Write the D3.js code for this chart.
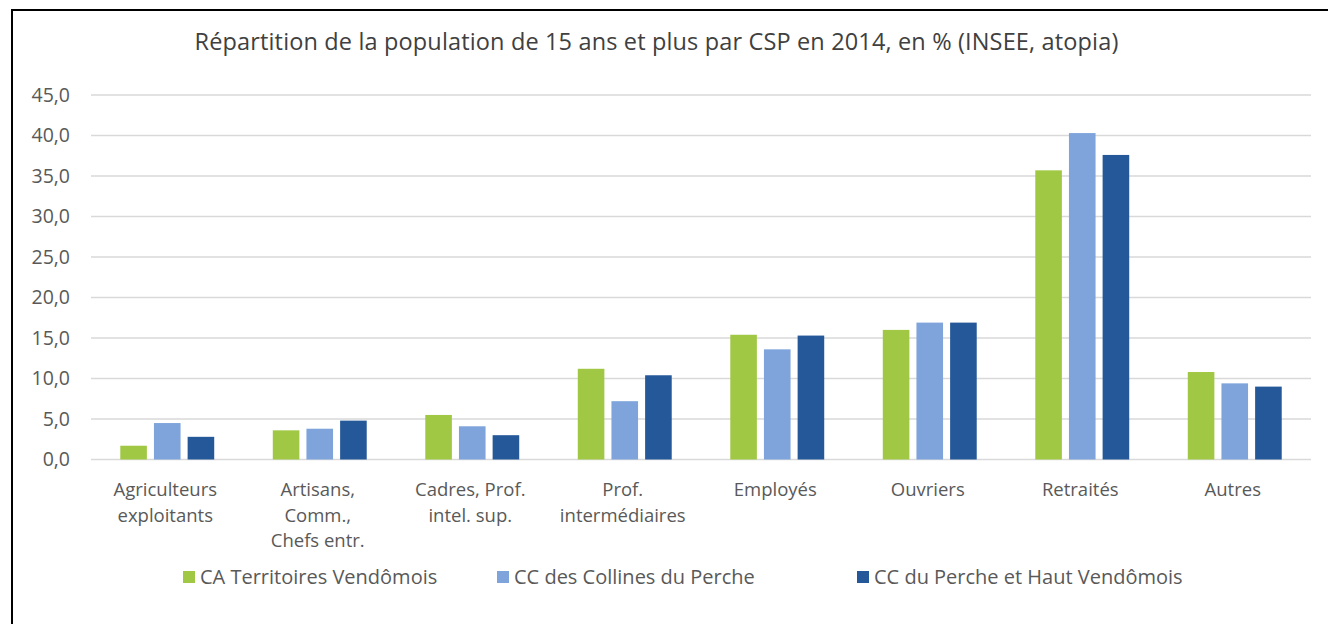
<!DOCTYPE html>
<html>
<head>
<meta charset="utf-8">
<script src="https://cdn.jsdelivr.net/npm/d3@7"></script>
<style>
  html, body { margin: 0; padding: 0; background: #fff; }
  svg { display: block; font-family: "Open Sans", sans-serif; }
</style>
</head>
<body>
<svg id="chart" width="1328" height="624"></svg>
<script>
const title = "Répartition de la population de 15 ans et plus par CSP en 2014, en % (INSEE, atopia)";
const categories = [
  ["Agriculteurs", "exploitants"],
  ["Artisans,", "Comm.,", "Chefs entr."],
  ["Cadres, Prof.", "intel. sup."],
  ["Prof.", "intermédiaires"],
  ["Employés"],
  ["Ouvriers"],
  ["Retraités"],
  ["Autres"]
];
const seriesNames = ["CA Territoires Vendômois", "CC des Collines du Perche", "CC du Perche et Haut Vendômois"];
const caTerritoires = [1.7, 3.6, 5.5, 11.2, 15.4, 16.0, 35.7, 10.8];
const ccCollines    = [4.5, 3.8, 4.1, 7.2, 13.6, 16.9, 40.3, 9.4];
const ccPerche      = [2.8, 4.8, 3.0, 10.4, 15.3, 16.9, 37.6, 9.0];
const yTicks = [0, 5, 10, 15, 20, 25, 30, 35, 40, 45];
const colors = ["#a1c844", "#7ea4db", "#245899"];

(function() {
const seriesValues = [caTerritoires, ccCollines, ccPerche];
const svg = d3.select("#chart");
const textColor = "#595959";

// frame
svg.append("rect").attr("x", 12).attr("y", 10).attr("width", 1340).attr("height", 640)
  .attr("fill", "none").attr("stroke", "#000").attr("stroke-width", 2);

// title
svg.append("text").attr("x", 656.5).attr("y", 50).attr("text-anchor", "middle")
  .attr("font-size", 23.5).attr("font-weight", 500).attr("fill", "#404040")
  .attr("letter-spacing", 0.15).text(title);

const pLeft = 91, pRight = 1311, pTop = 95, pBottom = 459.5;
const y = d3.scaleLinear().domain([0, 45]).range([pBottom, pTop]);
const x0 = d3.scaleBand().domain(d3.range(categories.length)).range([pLeft, pRight])
  .paddingInner(0.384).paddingOuter(0.192);
const x1 = d3.scaleBand().domain(d3.range(seriesNames.length)).range([0, x0.bandwidth()])
  .paddingInner(0.21).paddingOuter(0);

// gridlines
svg.append("g").selectAll("line").data(yTicks).join("line")
  .attr("x1", pLeft).attr("x2", pRight)
  .attr("y1", d => y(d)).attr("y2", d => y(d))
  .attr("stroke", "#d9d9d9").attr("stroke-width", 1.5);

// y labels
const yAxis = d3.axisLeft(y).tickValues(yTicks).tickSize(0).tickPadding(0)
  .tickFormat(d => d3.format(".1f")(d).replace(".", ","));
const ya = svg.append("g").attr("transform", `translate(70,0)`).call(yAxis);
ya.select(".domain").remove();
ya.selectAll("text").attr("font-size", 19.5).attr("fill", textColor)
  .attr("font-family", "'Open Sans', sans-serif");

// bars
const groups = svg.append("g").selectAll("g").data(categories.map((c, i) => i)).join("g")
  .attr("transform", i => `translate(${x0(i)},0)`);
groups.selectAll("rect").data(i => seriesValues.map((s, k) => ({k, v: s[i]}))).join("rect")
  .attr("x", d => x1(d.k)).attr("width", x1.bandwidth())
  .attr("y", d => y(d.v)).attr("height", d => y(0) - y(d.v))
  .attr("fill", d => colors[d.k]);

// x labels
const xl = svg.append("g").selectAll("text").data(categories).join("text")
  .attr("x", (d, i) => x0(i) + x0.bandwidth() / 2 - 2)
  .attr("y", 496).attr("text-anchor", "middle")
  .attr("font-size", 18.5).attr("fill", textColor);
xl.selectAll("tspan").data(d => d).join("tspan")
  .attr("x", function() { return this.parentNode.getAttribute("x"); })
  .attr("dy", (d, j) => j === 0 ? 0 : 25.5)
  .text(d => d);

// legend
const legendX = [183, 497, 857];
const lg = svg.append("g").selectAll("g").data(seriesNames).join("g")
  .attr("transform", (d, i) => `translate(${legendX[i]},571)`);
lg.append("rect").attr("width", 12).attr("height", 12).attr("fill", (d, i) => colors[i]);
lg.append("text").attr("x", 17).attr("y", 13).attr("font-size", 20).attr("fill", textColor)
  .text(d => d);
})();
</script>
</body>
</html>
